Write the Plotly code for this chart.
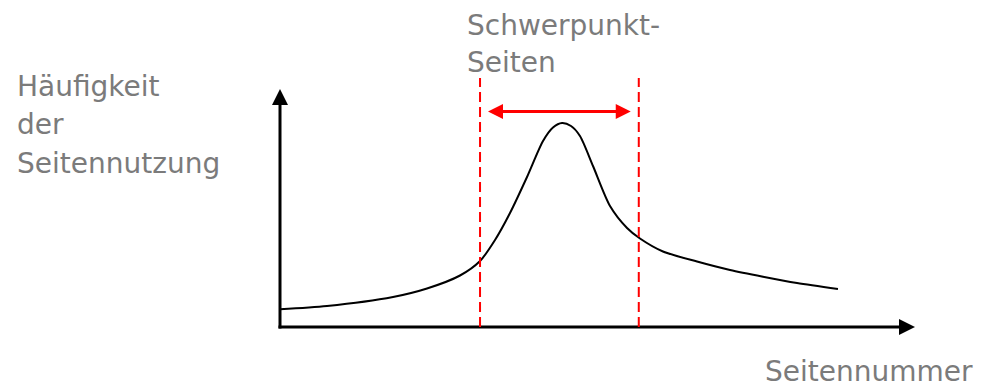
import plotly.graph_objects as go

# ---- data (page number vs. frequency of page use, arbitrary units) ----
page = [0, 7.40, 17.80, 23.15, 28.35, 31.50, 33.86, 36.22, 38.90, 41.42,
        42.99, 44.41, 45.83, 47.24, 49.29, 51.97, 54.65, 56.69, 60.31,
        65.67, 70.87, 76.06, 81.42, 87.87]
freq = [7.44, 8.82, 12.61, 16.18, 21.64, 27.73, 36.55, 47.90, 63.03, 78.15,
        83.82, 85.71, 84.45, 80.25, 67.65, 50.84, 41.60, 37.18, 31.72,
        27.52, 23.95, 21.13, 18.49, 15.97]
focus_bounds = [31.5, 56.5]          # Schwerpunkt-Seiten
axis_tip = [100, 100]                # x tip, y tip
focus_top = 104.6
focus_arrow_y = 90.5

y_label = ["Häufigkeit", "der", "Seitennutzung"]
x_label = ["Seitennummer"]
focus_label = ["Schwerpunkt-", "Seiten"]

# ---- layout geometry ----
W, H = 981, 388
XPX, YPX = 6.35, 2.38                # pixels per unit
X0PX, Y0PX = 280, 327                # origin in pixels
xr = [-X0PX / XPX, (W - X0PX) / XPX]
yr = [(Y0PX - H) / YPX, Y0PX / YPX]

GRAY = "#7b7b7b"
RED = "#ff0000"
FONT = "DejaVu Sans"

fig = go.Figure()
fig.add_trace(go.Scatter(x=page, y=freq, mode="lines",
                         line=dict(color="black", width=2, shape="spline", smoothing=0.75),
                         hoverinfo="skip"))

shapes = []
# axes
shapes.append(dict(type="line", x0=-1.5 / XPX, y0=0, x1=axis_tip[0] - 14 / XPX, y1=0,
                   line=dict(color="black", width=3)))
shapes.append(dict(type="line", x0=0, y0=-1.5 / YPX, x1=0, y1=axis_tip[1] - 14 / YPX,
                   line=dict(color="black", width=3)))
shapes.append(dict(type="path", xsizemode="pixel", ysizemode="pixel",
                   xanchor=axis_tip[0], yanchor=0, path="M0,0 L-16,8 L-16,-8 Z",
                   fillcolor="black", line=dict(width=0)))
shapes.append(dict(type="path", xsizemode="pixel", ysizemode="pixel",
                   xanchor=0, yanchor=axis_tip[1], path="M0,0 L-8,-16 L8,-16 Z",
                   fillcolor="black", line=dict(width=0)))
# focus lines
for b in focus_bounds:
    shapes.append(dict(type="line", x0=b, x1=b, y0=0, y1=focus_top,
                       line=dict(color=RED, width=2, dash="10px,5px")))
# double arrow
lo, hi = focus_bounds
shapes.append(dict(type="line", x0=lo + 20 / XPX, x1=hi - 20 / XPX,
                   y0=focus_arrow_y, y1=focus_arrow_y,
                   line=dict(color=RED, width=3)))
shapes.append(dict(type="path", xsizemode="pixel", ysizemode="pixel",
                   xanchor=lo, yanchor=focus_arrow_y, path="M8,0 L23,7.5 L23,-7.5 Z",
                   fillcolor=RED, line=dict(width=0)))
shapes.append(dict(type="path", xsizemode="pixel", ysizemode="pixel",
                   xanchor=hi, yanchor=focus_arrow_y, path="M-8,0 L-23,7.5 L-23,-7.5 Z",
                   fillcolor=RED, line=dict(width=0)))

annotations = []


def add_lines(lines, left_px, first_top_px, step_px):
    for i, t in enumerate(lines):
        annotations.append(dict(
            text=t, xref="paper", yref="paper",
            x=left_px / W, y=1 - (first_top_px + i * step_px) / H,
            xanchor="left", yanchor="top", align="left", showarrow=False,
            font=dict(family=FONT, size=28, color=GRAY)))


add_lines(y_label, 15, 67.5, 38.5)
add_lines(focus_label, 465, 6.5, 37.5)
add_lines(x_label, 763, 353, 0)

fig.update_layout(
    width=W, height=H, margin=dict(l=0, r=0, t=0, b=0),
    paper_bgcolor="white", plot_bgcolor="white", showlegend=False,
    xaxis=dict(range=xr, visible=False, fixedrange=True),
    yaxis=dict(range=yr, visible=False, fixedrange=True),
    shapes=shapes, annotations=annotations,
)

fig.write_html("out.html", config={"displayModeBar": False},
               post_script="document.body.style.margin='0';document.body.style.overflow='hidden';")
